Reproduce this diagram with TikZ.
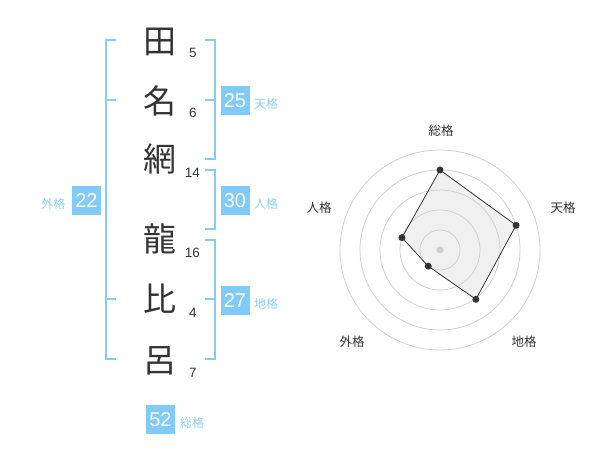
\documentclass[tikz,border=0pt]{standalone}
\usepackage{fontspec}
\setmainfont{Liberation Sans}
\newfontfamily\cjk{Noto Sans CJK JP}
\definecolor{ink}{HTML}{333333}
\definecolor{boxblue}{HTML}{80CBF8}
\definecolor{lblblue}{HTML}{8DCFF5}
\definecolor{brkblue}{HTML}{88CCF5}
\definecolor{ringgray}{HTML}{D0D0D0}
\definecolor{polyfill}{HTML}{F0F0F0}
\tikzset{
  kanji/.style={font=\cjk\fontsize{33}{33}\selectfont, text=ink, inner sep=0},
  num/.style={font=\fontsize{13.5}{13.5}\selectfont, text=ink, inner sep=0},
  score/.style={fill=boxblue, text=white, minimum width=29, minimum height=29, inner sep=0, font=\fontsize{20}{20}\selectfont},
  lbl/.style={font=\cjk\fontsize{12}{12}\selectfont, text=lblblue, inner sep=0},
  brk/.style={draw=brkblue, line width=2},
  ring/.style={draw=ringgray, line width=0.8},
  rlbl/.style={font=\cjk\fontsize{12.5}{12.5}\selectfont, text=ink, inner sep=0},
  pt/.style={circle, fill=ink, inner sep=0, minimum size=7},
}
\begin{document}
\begin{tikzpicture}[x=1pt,y=-1pt]
\useasboundingbox (0,0) rectangle (600,470);
% kanji
\node[kanji] (k1) at (160,42) {田};
\node[kanji] (k2) at (160,100.5) {名};
\node[kanji] (k3) at (160,159) {網};
\node[kanji] (k4) at (160,239) {龍};
\node[kanji] (k5) at (160,298.5) {比};
\node[kanji] (k6) at (160,360.5) {呂};
% stroke counts
\node[num] (n1) at (193,52.5) {5};
\node[num] (n2) at (193,112.5) {6};
\node[num] (n3) at (192.5,173) {14};
\node[num] (n4) at (192.5,252.5) {16};
\node[num] (n5) at (193,312.5) {4};
\node[num] (n6) at (193,372.5) {7};
% brackets
\draw[brk] (116,40) -- (106,40) -- (106,359.5) -- (116,359.5);
\draw[brk] (106,100) -- (116,100);
\draw[brk] (106,299.5) -- (116,299.5);
\draw[brk] (205,40) -- (214.5,40) -- (214.5,159.5) -- (205,159.5);
\draw[brk] (205,100) -- (214.5,100);
\draw[brk] (205,170) -- (214.5,170) -- (214.5,229.5) -- (205,229.5);
\draw[brk] (205,240) -- (214.5,240) -- (214.5,359.5) -- (205,359.5);
\draw[brk] (205,299.5) -- (214.5,299.5);
% scores
\node[score] (s1) at (235,100.5) {25};
\node[lbl] (l1) at (266,104) {天格};
\node[score] (s2) at (235,200.5) {30};
\node[lbl] (l2) at (266,204) {人格};
\node[score] (s3) at (235,300.5) {27};
\node[lbl] (l3) at (266,304) {地格};
\node[score] (s4) at (86.5,200.5) {22};
\node[lbl] (l4) at (53.5,204) {外格};
\node[score] (s5) at (160.5,419.5) {52};
\node[lbl] (l5) at (192,423) {総格};
% radar
\begin{scope}[shift={(440,250)}]
\coordinate (p1) at (-90:80);
\coordinate (p2) at (-18:80);
\coordinate (p3) at (54:61);
\coordinate (p4) at (126:20);
\coordinate (p5) at (-162:40);
\fill[polyfill] (p1) -- (p2) -- (p3) -- (p4) -- (p5) -- cycle;
\foreach \r in {20,40,60,80,100} \draw[ring] (0,0) circle[radius=\r];
\fill[ringgray] (0,0) circle[radius=3.5];
\draw[ink, line width=0.8] (p1) -- (p2) -- (p3) -- (p4) -- (p5) -- cycle;
\foreach \p in {p1,p2,p3,p4,p5} \node[pt] at (\p) {};
\end{scope}
\node[rlbl] (r1) at (441,131) {総格};
\node[rlbl] (r2) at (563,208) {天格};
\node[rlbl] (r3) at (319,208) {人格};
\node[rlbl] (r4) at (352,342) {外格};
\node[rlbl] (r5) at (524,342) {地格};
\end{tikzpicture}
\end{document}
